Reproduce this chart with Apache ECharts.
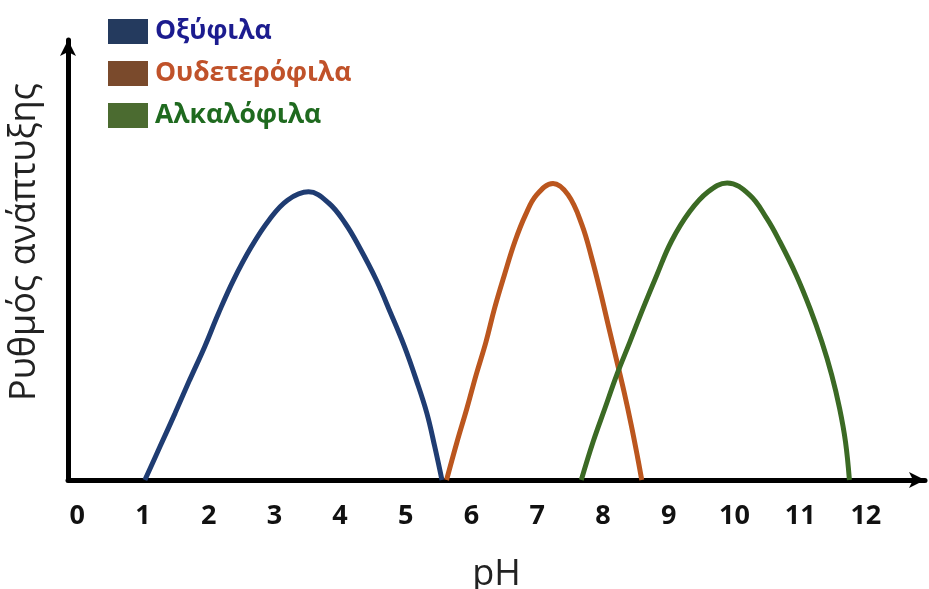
<!DOCTYPE html>
<html>
<head>
<meta charset="utf-8">
<script src="https://cdn.jsdelivr.net/npm/echarts@6/dist/echarts.min.js"></script>
<style>
  html, body { margin: 0; padding: 0; background: #ffffff; overflow: hidden; }
  #chart { width: 929px; height: 589px; }
</style>
</head>
<body>
<div id="chart"></div>
<script>
// Growth-rate curves of microorganisms versus pH
const seriesNames = ['Οξύφιλα', 'Ουδετερόφιλα', 'Αλκαλόφιλα'];
const phTicks = [0, 1, 2, 3, 4, 5, 6, 7, 8, 9, 10, 11, 12];

// Acidophiles
const phAcid   = [1.03, 1.26, 1.49, 1.71, 1.94, 2.15, 2.38, 2.65, 2.92, 3.20, 3.52, 3.83, 4.08, 4.29, 4.55, 4.77, 4.98, 5.16, 5.32, 5.44, 5.55];
const rateAcid = [0,    0.76, 1.52, 2.27, 3.03, 3.79, 4.55, 5.30, 5.91, 6.36, 6.55, 6.29, 5.83, 5.30, 4.55, 3.79, 3.03, 2.27, 1.52, 0.76, 0];

// Neutrophiles
const phNeutral   = [5.62, 5.78, 5.93, 6.07, 6.22, 6.35, 6.50, 6.66, 6.82, 6.99, 7.24, 7.47, 7.68, 7.83, 7.96, 8.08, 8.20, 8.32, 8.43, 8.53, 8.59];
const rateNeutral = [0,    0.87, 1.63, 2.39, 3.14, 3.90, 4.66, 5.42, 6.02, 6.48, 6.74, 6.48, 5.80, 5.04, 4.28, 3.52, 2.77, 2.01, 1.25, 0.49, 0];

// Alkaliphiles
const phAlkali   = [7.67, 7.85, 8.03, 8.21, 8.41, 8.61, 8.82, 9.04, 9.32, 9.60, 9.89, 10.23, 10.49, 10.69, 10.94, 11.15, 11.33, 11.48, 11.60, 11.69, 11.75];
const rateAlkali = [0,    0.87, 1.63, 2.39, 3.14, 3.90, 4.66, 5.42, 6.10, 6.55, 6.75, 6.48,  5.95,  5.42,  4.66,  3.90,  3.14,  2.39,  1.63,  0.87,  0];

const lineColors   = ['#1f3c72', '#bb561e', '#3b6a24'];
const swatchColors = ['#243a5e', '#7a4a2c', '#4b6b30'];
const textColors   = ['#1c1c8f', '#c0522a', '#1f6a1f'];

const pairs = (xs, ys) => xs.map((x, i) => [x, ys[i]]);
const curves = [pairs(phAcid, rateAcid), pairs(phNeutral, rateNeutral), pairs(phAlkali, rateAlkali)];

const chart = echarts.init(document.getElementById('chart'), null, { renderer: 'canvas' });

chart.setOption({
  backgroundColor: '#ffffff',
  animation: false,
  grid: { left: 68, top: 40, width: 857, height: 440, containLabel: false, outerBoundsMode: 'none' },
  legend: {
    orient: 'vertical',
    left: 108,
    top: 18,
    padding: 0,
    itemWidth: 40,
    itemHeight: 25,
    itemGap: 15,
    icon: 'rect',
    selectedMode: false,
    textStyle: { fontFamily: 'Open Sans', fontWeight: 'bold', fontSize: 26.5, padding: [0, 0, 0, 2] },
    data: seriesNames.map((name, i) => ({
      name: name,
      itemStyle: { color: swatchColors[i] },
      textStyle: { color: textColors[i] }
    }))
  },
  xAxis: {
    type: 'value',
    min: -0.14,
    max: 12.9,
    name: 'pH',
    nameLocation: 'middle',
    nameGap: 77,
    nameTextStyle: { fontFamily: 'Open Sans', fontSize: 36, color: '#222222' },
    axisLine: {
      show: true,
      onZero: false,
      symbol: ['none', 'arrow'],
      symbolSize: [12, 16],
      lineStyle: { color: '#000000', width: 5 }
    },
    axisTick: { show: false },
    splitLine: { show: false },
    axisLabel: {
      customValues: phTicks,
      margin: 23,
      fontFamily: 'Open Sans',
      fontWeight: 'bold',
      fontSize: 27,
      color: '#111111'
    }
  },
  yAxis: {
    type: 'value',
    min: 0,
    max: 10,
    name: 'Ρυθμός ανάπτυξης',
    nameLocation: 'middle',
    nameRotate: 90,
    nameGap: 25,
    nameTextStyle: { fontFamily: 'Open Sans', fontSize: 36, color: '#222222', padding: [0, 0, 0, 36] },
    axisLine: {
      show: true,
      onZero: false,
      symbol: ['none', 'arrow'],
      symbolSize: [12, 16],
      lineStyle: { color: '#000000', width: 5 }
    },
    axisTick: { show: false },
    axisLabel: { show: false },
    splitLine: { show: false }
  },
  series: seriesNames.map((name, i) => ({
    name: name,
    type: 'line',
    data: curves[i],
    smooth: 0.4,
    showSymbol: false,
    symbol: 'none',
    color: swatchColors[i],
    lineStyle: { color: lineColors[i], width: 5 },
    z: 3 + i
  }))
});
</script>
</body>
</html>
